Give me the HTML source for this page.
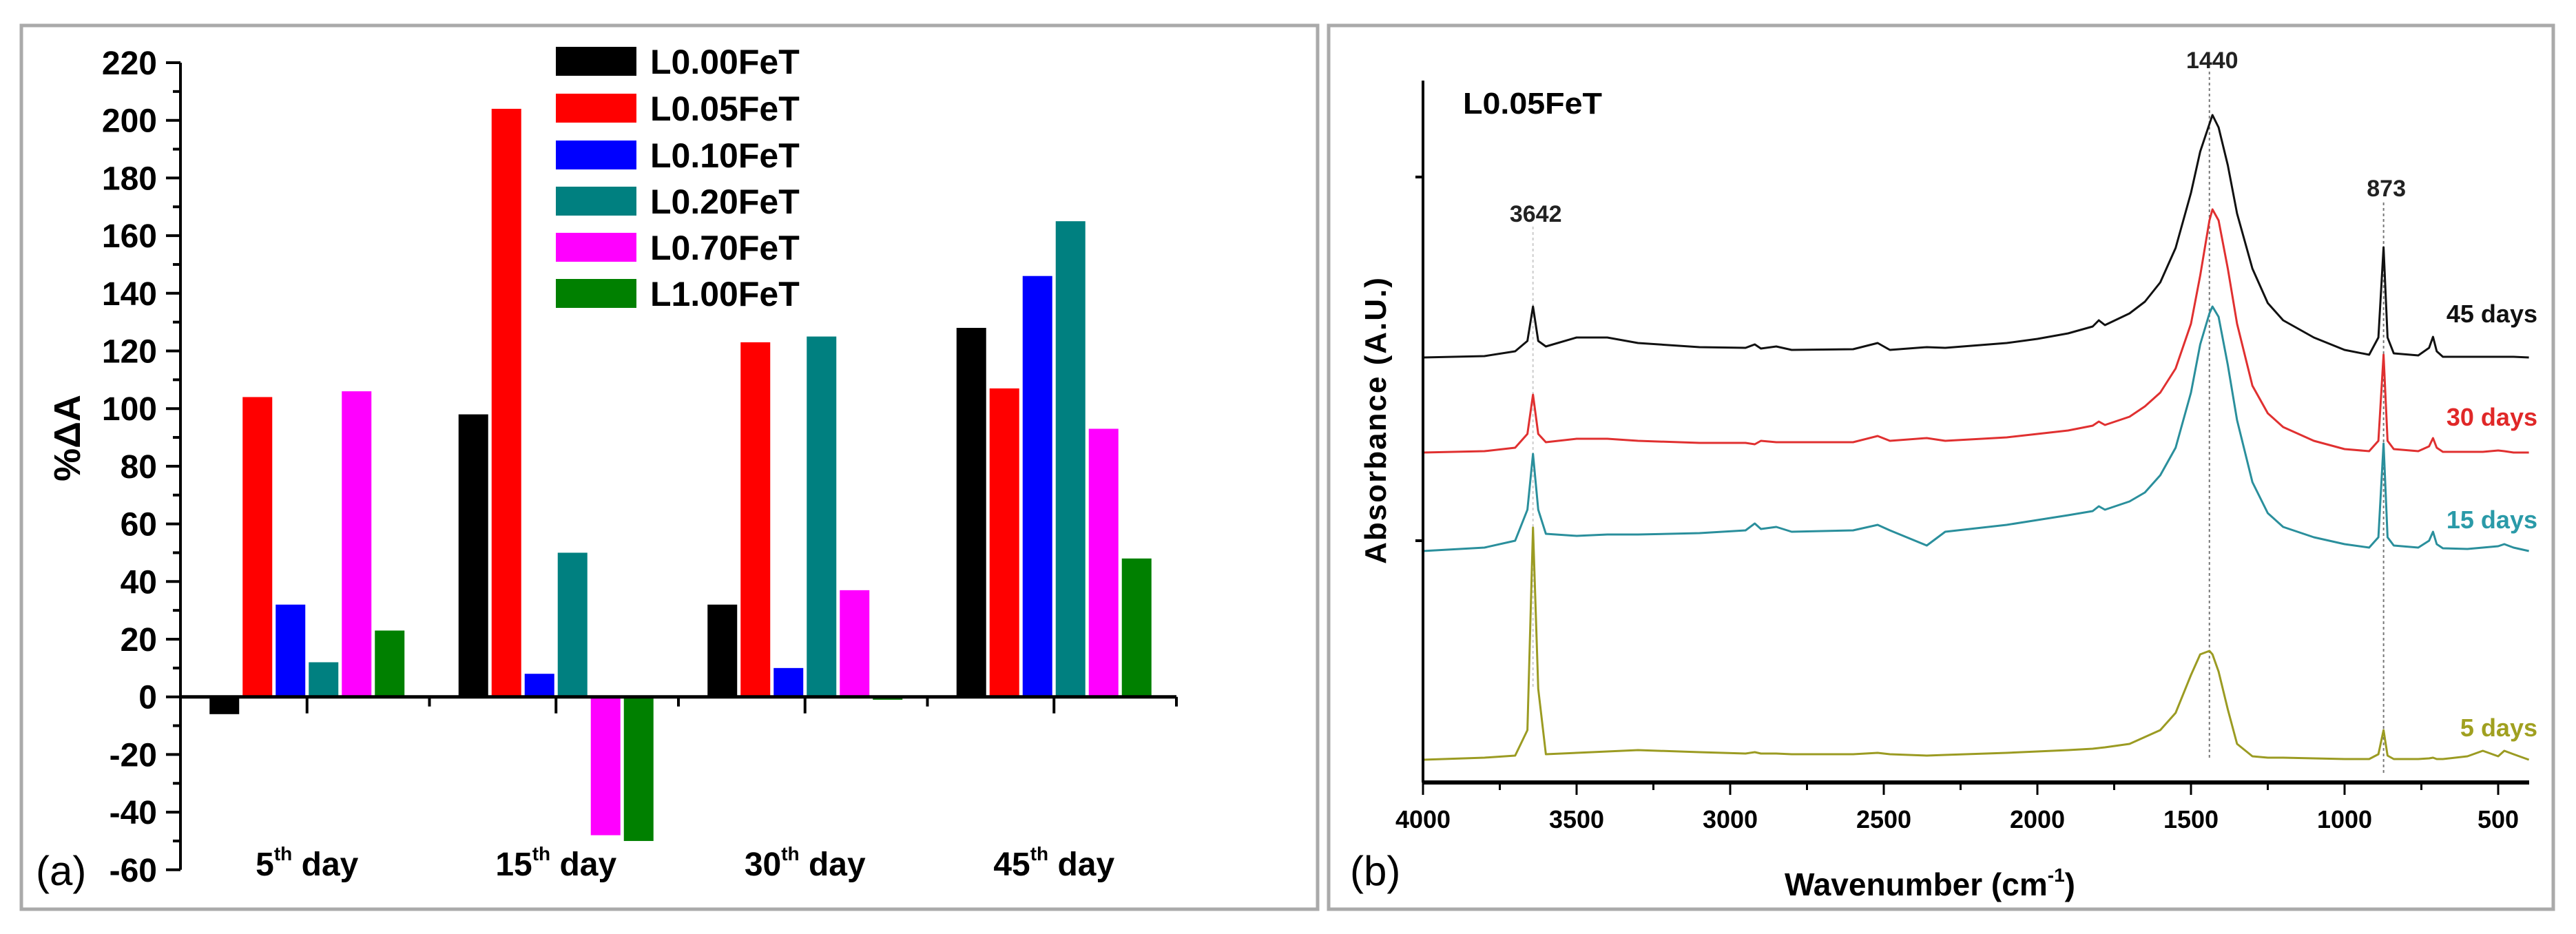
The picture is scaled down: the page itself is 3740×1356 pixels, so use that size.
<!DOCTYPE html>
<html><head><meta charset="utf-8"><style>
html,body{margin:0;padding:0;background:#fff;}
svg{display:block;font-family:"Liberation Sans",Arial,sans-serif;}
</style></head><body>
<svg id="fig" width="3740" height="1356" viewBox="0 0 3740 1356" xmlns="http://www.w3.org/2000/svg">
<rect x="0" y="0" width="3740" height="1356" fill="#fff"/>
<rect x="31" y="37" width="1882" height="1283" fill="none" stroke="#aaa" stroke-width="5"/>
<rect x="1929" y="37" width="1778" height="1283" fill="none" stroke="#aaa" stroke-width="5"/>
<g id="pa"></g>
<g id="pb"></g>
</svg>
<script>
// ---------- Panel (a) data ----------
const categories = ["5", "15", "30", "45"];
const seriesNames = ["L0.00FeT","L0.05FeT","L0.10FeT","L0.20FeT","L0.70FeT","L1.00FeT"];
const vL000 = [-6, 98, 32, 128];
const vL005 = [104, 204, 123, 107];
const vL010 = [32, 8, 10, 146];
const vL020 = [12, 50, 125, 165];
const vL070 = [106, -48, 37, 93];
const vL100 = [23, -50, -1, 48];
const yTicks = [-60,-40,-20,0,20,40,60,80,100,120,140,160,180,200,220];

// ---------- Panel (b) data ----------
const wn = [4000,3800,3700,3660,3642,3625,3600,3500,3400,3300,3100,2950,2920,2900,2850,2800,2600,2520,2480,2360,2300,2100,2000,1900,1820,1800,1780,1700,1650,1600,1550,1500,1470,1440,1430,1410,1380,1350,1300,1250,1200,1100,1000,920,890,873,860,840,760,725,712,700,680,600,550,500,480,450,400];
const abs45 = [6.17,6.19,6.26,6.41,6.91,6.41,6.33,6.46,6.46,6.38,6.32,6.31,6.36,6.30,6.33,6.28,6.29,6.38,6.28,6.32,6.31,6.38,6.44,6.52,6.62,6.71,6.64,6.81,6.98,7.26,7.76,8.56,9.16,9.56,9.69,9.51,8.96,8.26,7.46,6.96,6.71,6.46,6.28,6.21,6.46,7.77,6.46,6.23,6.20,6.31,6.47,6.26,6.18,6.18,6.18,6.18,6.18,6.18,6.17];
const abs30 = [4.79,4.81,4.86,5.06,5.63,5.06,4.94,4.99,4.99,4.96,4.93,4.93,4.91,4.96,4.94,4.94,4.94,5.03,4.96,5.00,4.96,5.01,5.06,5.11,5.18,5.24,5.19,5.31,5.46,5.66,6.01,6.66,7.36,8.16,8.32,8.16,7.46,6.66,5.76,5.36,5.16,4.96,4.84,4.81,4.96,6.21,4.96,4.84,4.81,4.88,5.00,4.86,4.80,4.80,4.80,4.82,4.81,4.79,4.79];
const abs15 = [3.36,3.41,3.51,3.96,4.77,3.96,3.61,3.58,3.60,3.60,3.62,3.66,3.76,3.68,3.71,3.64,3.66,3.74,3.66,3.44,3.64,3.74,3.81,3.88,3.94,4.01,3.96,4.08,4.21,4.46,4.86,5.66,6.36,6.81,6.91,6.76,6.06,5.26,4.36,3.91,3.71,3.56,3.46,3.41,3.56,4.92,3.56,3.44,3.41,3.51,3.64,3.46,3.40,3.39,3.41,3.43,3.46,3.41,3.36];
const abs5 = [0.33,0.36,0.39,0.76,3.70,1.36,0.41,0.43,0.45,0.47,0.44,0.42,0.44,0.42,0.42,0.41,0.41,0.43,0.41,0.39,0.40,0.43,0.45,0.47,0.49,0.50,0.51,0.56,0.66,0.76,1.01,1.56,1.86,1.91,1.86,1.61,1.06,0.56,0.38,0.36,0.36,0.35,0.34,0.34,0.41,0.76,0.39,0.34,0.34,0.35,0.36,0.34,0.34,0.38,0.46,0.38,0.46,0.41,0.33];
const xTicksB = [4000,3500,3000,2500,2000,1500,1000,500];
const peakLabels = [3642, 1440, 873];

const NS = "http://www.w3.org/2000/svg";
function mk(parent, tag, attrs, text){
  const e = document.createElementNS(NS, tag);
  for (const k in attrs) e.setAttribute(k, attrs[k]);
  if (text !== undefined) e.textContent = text;
  parent.appendChild(e);
  return e;
}

// ================= Panel (a) =================
const pa = document.getElementById("pa");
const axL = 262, axR = 1708;
const yA = v => 1011.7 - v * 4.185;
const groupW = (axR - axL) / categories.length;
const xGroup = i => axL + groupW * (i + 0.5) + 3;
const barPitch = 48, barW = 43;
const colorsA = ["#000000","#ff0000","#0000ff","#008080","#ff00ff","#008000"];
const seriesA = [vL000, vL005, vL010, vL020, vL070, vL100];

seriesA.forEach((vals, s) => {
  vals.forEach((v, i) => {
    const x = xGroup(i) - 3 * barPitch + s * barPitch + (barPitch - barW) / 2;
    const y0 = yA(0), y1 = yA(v);
    const r = mk(pa, "rect", {x: x, y: Math.min(y0, y1), width: barW, height: Math.abs(y1 - y0), fill: colorsA[s]});
    
    
  });
});

// y axis
const yaxis = mk(pa, "line", {x1: axL, y1: yA(-60), x2: axL, y2: yA(220), stroke: "#000", "stroke-width": 4});


for (let v = -60; v <= 220; v += 10) {
  const major = (v % 20 === 0);
  mk(pa, "line", {x1: axL - (major ? 21 : 11), y1: yA(v), x2: axL, y2: yA(v), stroke: "#000", "stroke-width": 4});
}
yTicks.forEach(v => {
  const t = mk(pa, "text", {x: 228, y: yA(v) + 17, "text-anchor": "end", "font-size": 48, "font-weight": "bold", fill: "#000"}, String(v));
  
  
});
// x axis
const xaxis = mk(pa, "line", {x1: axL, y1: yA(0), x2: axR, y2: yA(0), stroke: "#000", "stroke-width": 5});


for (let i = 0; i < categories.length; i++) {
  mk(pa, "line", {x1: xGroup(i), y1: yA(0), x2: xGroup(i), y2: yA(0) + 24, stroke: "#000", "stroke-width": 4});
  const xb = axL + groupW * (i + 1);
  mk(pa, "line", {x1: xb, y1: yA(0), x2: xb, y2: yA(0) + 14, stroke: "#000", "stroke-width": 4});
  const t = mk(pa, "text", {x: xGroup(i), y: 1271, "text-anchor": "middle", "font-size": 48, "font-weight": "bold", fill: "#000"});
  
  
  mk(t, "tspan", {}, categories[i]);
  mk(t, "tspan", {"font-size": 28, dy: -22}, "th");
  mk(t, "tspan", {dy: 22}, " day");
}
// y title
const yt = mk(pa, "text", {x: 0, y: 0, transform: "translate(116,636) rotate(-90)", "text-anchor": "middle", "font-size": 54, "font-weight": "bold", fill: "#000"}, "%ΔA");


const la = mk(pa, "text", {x: 52, y: 1285, "font-size": 60, fill: "#000"}, "(a)");


// legend
const legYs = [89, 157, 225, 292, 359, 426];
seriesNames.forEach((n, s) => {
  const g = mk(pa, "g", {});
  
  
  mk(g, "rect", {x: 807, y: legYs[s] - 21, width: 117, height: 42, fill: colorsA[s]});
  mk(g, "text", {x: 944, y: legYs[s] + 18, "font-size": 50, "font-weight": "bold", fill: "#000"}, n);
});

// ================= Panel (b) =================
const pb = document.getElementById("pb");
const bx0 = 2066, bxEnd = 3672, by0 = 1136;
const xB = w => bx0 + (4000 - w) * 0.446;
const yB = v => by0 - v * 100;

// dotted guide lines
[[3642, 329, 1000, "#ccc"], [1440, 104, 1103, "#777"], [873, 294, 1125, "#777"]].forEach(d => {
  const l = mk(pb, "line", {x1: xB(d[0]), y1: d[1], x2: xB(d[0]), y2: d[2], stroke: d[3], "stroke-width": 2, "stroke-dasharray": "4 4"});
  
  
});

const specs = [[abs45, "#111111", "45"], [abs30, "#e03030", "30"], [abs15, "#2a8f9c", "15"], [abs5, "#9b9b22", "5"]];
specs.forEach(sp => {
  const pts = wn.map((w, i) => xB(w).toFixed(1) + "," + yB(sp[0][i]).toFixed(1)).join(" ");
  const pl = mk(pb, "polyline", {points: pts, fill: "none", stroke: sp[1], "stroke-width": 3, "stroke-linejoin": "round"});
  
  
});

// axes
const ybx = mk(pb, "line", {x1: bx0, y1: 117, x2: bx0, y2: by0, stroke: "#000", "stroke-width": 4});


[257, 785].forEach(y => mk(pb, "line", {x1: bx0 - 11, y1: y, x2: bx0, y2: y, stroke: "#000", "stroke-width": 4}));
const xbx = mk(pb, "line", {x1: bx0, y1: by0, x2: bxEnd, y2: by0, stroke: "#000", "stroke-width": 6});


for (let w = 4000; w >= 500; w -= 250) {
  const major = (w % 500 === 0);
  mk(pb, "line", {x1: xB(w), y1: by0, x2: xB(w), y2: by0 + (major ? 18 : 11), stroke: "#000", "stroke-width": 3});
}
xTicksB.forEach(w => {
  const t = mk(pb, "text", {x: xB(w), y: 1202, "text-anchor": "middle", "font-size": 36, "font-weight": "bold", fill: "#000"}, String(w));
  
  
});
const xtb = mk(pb, "text", {x: 2802, y: 1300, "text-anchor": "middle", "font-size": 46, "font-weight": "bold", fill: "#000"});


mk(xtb, "tspan", {}, "Wavenumber (cm");
mk(xtb, "tspan", {"font-size": 28, dy: -20}, "-1");
mk(xtb, "tspan", {dy: 20}, ")");
const ytb = mk(pb, "text", {x: 0, y: 0, transform: "translate(2012,610) rotate(-90)", "text-anchor": "middle", "font-size": 44, "font-weight": "bold", fill: "#000", "letter-spacing": "2"}, "Absorbance (A.U.)");


const lb = mk(pb, "text", {x: 1960, y: 1285, "font-size": 60, fill: "#000"}, "(b)");


const st = mk(pb, "text", {x: 2124, y: 165, "font-size": 44, "font-weight": "bold", fill: "#000", textLength: 202, lengthAdjust: "spacingAndGlyphs"}, "L0.05FeT");


const peakYs = [322, 99, 285];
peakLabels.forEach((p, i) => {
  const t = mk(pb, "text", {x: xB(p) + 4, y: peakYs[i], "text-anchor": "middle", "font-size": 34, "font-weight": "bold", fill: "#222"}, String(p));
  
  
});
const dayLabels = [["45 days", 468, "#111"], ["30 days", 618, "#e02828"], ["15 days", 767, "#2a9aa8"], ["5 days", 1069, "#a0a020"]];
dayLabels.forEach(d => {
  const t = mk(pb, "text", {x: 3684, y: d[1], "text-anchor": "end", "font-size": 36, "font-weight": "bold", fill: d[2]}, d[0]);
  
  
});
</script>
</body></html>
